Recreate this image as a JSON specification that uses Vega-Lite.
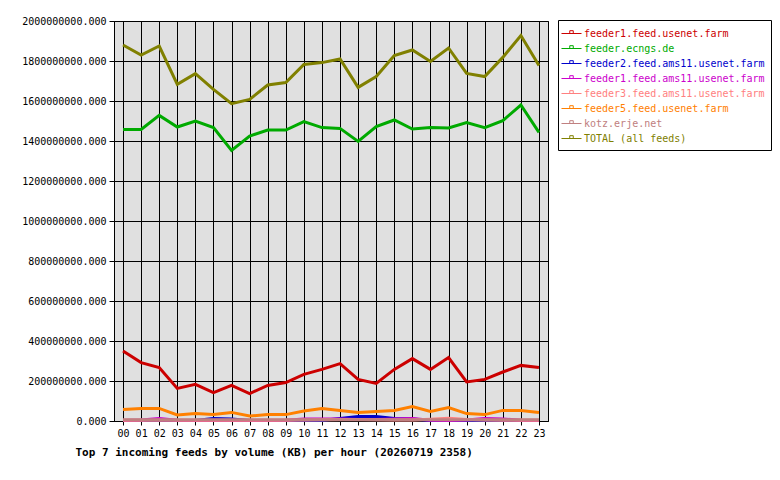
{
  "$schema": "https://vega.github.io/schema/vega-lite/v6.json",
  "description": "Top 7 incoming feeds by volume per hour",
  "width": 434,
  "height": 400,
  "autosize": "none",
  "padding": {"left": 114, "top": 21, "right": 232, "bottom": 59},
  "background": "white",
  "data": {
    "values": [
      {"hour": "00", "feed": "feeder1.feed.usenet.farm", "kb": 350000000},
      {"hour": "01", "feed": "feeder1.feed.usenet.farm", "kb": 292000000},
      {"hour": "02", "feed": "feeder1.feed.usenet.farm", "kb": 267000000},
      {"hour": "03", "feed": "feeder1.feed.usenet.farm", "kb": 163000000},
      {"hour": "04", "feed": "feeder1.feed.usenet.farm", "kb": 183000000},
      {"hour": "05", "feed": "feeder1.feed.usenet.farm", "kb": 142000000},
      {"hour": "06", "feed": "feeder1.feed.usenet.farm", "kb": 178000000},
      {"hour": "07", "feed": "feeder1.feed.usenet.farm", "kb": 137000000},
      {"hour": "08", "feed": "feeder1.feed.usenet.farm", "kb": 178000000},
      {"hour": "09", "feed": "feeder1.feed.usenet.farm", "kb": 192000000},
      {"hour": "10", "feed": "feeder1.feed.usenet.farm", "kb": 233000000},
      {"hour": "11", "feed": "feeder1.feed.usenet.farm", "kb": 258000000},
      {"hour": "12", "feed": "feeder1.feed.usenet.farm", "kb": 287000000},
      {"hour": "13", "feed": "feeder1.feed.usenet.farm", "kb": 208000000},
      {"hour": "14", "feed": "feeder1.feed.usenet.farm", "kb": 188000000},
      {"hour": "15", "feed": "feeder1.feed.usenet.farm", "kb": 258000000},
      {"hour": "16", "feed": "feeder1.feed.usenet.farm", "kb": 312000000},
      {"hour": "17", "feed": "feeder1.feed.usenet.farm", "kb": 258000000},
      {"hour": "18", "feed": "feeder1.feed.usenet.farm", "kb": 317000000},
      {"hour": "19", "feed": "feeder1.feed.usenet.farm", "kb": 195000000},
      {"hour": "20", "feed": "feeder1.feed.usenet.farm", "kb": 208000000},
      {"hour": "21", "feed": "feeder1.feed.usenet.farm", "kb": 245000000},
      {"hour": "22", "feed": "feeder1.feed.usenet.farm", "kb": 278000000},
      {"hour": "23", "feed": "feeder1.feed.usenet.farm", "kb": 267000000},

      {"hour": "00", "feed": "feeder.ecngs.de", "kb": 1458000000},
      {"hour": "01", "feed": "feeder.ecngs.de", "kb": 1458000000},
      {"hour": "02", "feed": "feeder.ecngs.de", "kb": 1528000000},
      {"hour": "03", "feed": "feeder.ecngs.de", "kb": 1470000000},
      {"hour": "04", "feed": "feeder.ecngs.de", "kb": 1500000000},
      {"hour": "05", "feed": "feeder.ecngs.de", "kb": 1467000000},
      {"hour": "06", "feed": "feeder.ecngs.de", "kb": 1353000000},
      {"hour": "07", "feed": "feeder.ecngs.de", "kb": 1425000000},
      {"hour": "08", "feed": "feeder.ecngs.de", "kb": 1455000000},
      {"hour": "09", "feed": "feeder.ecngs.de", "kb": 1455000000},
      {"hour": "10", "feed": "feeder.ecngs.de", "kb": 1497000000},
      {"hour": "11", "feed": "feeder.ecngs.de", "kb": 1467000000},
      {"hour": "12", "feed": "feeder.ecngs.de", "kb": 1463000000},
      {"hour": "13", "feed": "feeder.ecngs.de", "kb": 1398000000},
      {"hour": "14", "feed": "feeder.ecngs.de", "kb": 1472000000},
      {"hour": "15", "feed": "feeder.ecngs.de", "kb": 1505000000},
      {"hour": "16", "feed": "feeder.ecngs.de", "kb": 1460000000},
      {"hour": "17", "feed": "feeder.ecngs.de", "kb": 1468000000},
      {"hour": "18", "feed": "feeder.ecngs.de", "kb": 1465000000},
      {"hour": "19", "feed": "feeder.ecngs.de", "kb": 1492000000},
      {"hour": "20", "feed": "feeder.ecngs.de", "kb": 1467000000},
      {"hour": "21", "feed": "feeder.ecngs.de", "kb": 1502000000},
      {"hour": "22", "feed": "feeder.ecngs.de", "kb": 1580000000},
      {"hour": "23", "feed": "feeder.ecngs.de", "kb": 1443000000},

      {"hour": "00", "feed": "feeder2.feed.ams11.usenet.farm", "kb": 2000000},
      {"hour": "01", "feed": "feeder2.feed.ams11.usenet.farm", "kb": 2000000},
      {"hour": "02", "feed": "feeder2.feed.ams11.usenet.farm", "kb": 2000000},
      {"hour": "03", "feed": "feeder2.feed.ams11.usenet.farm", "kb": 2000000},
      {"hour": "04", "feed": "feeder2.feed.ams11.usenet.farm", "kb": 2000000},
      {"hour": "05", "feed": "feeder2.feed.ams11.usenet.farm", "kb": 12000000},
      {"hour": "06", "feed": "feeder2.feed.ams11.usenet.farm", "kb": 10000000},
      {"hour": "07", "feed": "feeder2.feed.ams11.usenet.farm", "kb": 2000000},
      {"hour": "08", "feed": "feeder2.feed.ams11.usenet.farm", "kb": 2000000},
      {"hour": "09", "feed": "feeder2.feed.ams11.usenet.farm", "kb": 2000000},
      {"hour": "10", "feed": "feeder2.feed.ams11.usenet.farm", "kb": 2000000},
      {"hour": "11", "feed": "feeder2.feed.ams11.usenet.farm", "kb": 3000000},
      {"hour": "12", "feed": "feeder2.feed.ams11.usenet.farm", "kb": 12000000},
      {"hour": "13", "feed": "feeder2.feed.ams11.usenet.farm", "kb": 22000000},
      {"hour": "14", "feed": "feeder2.feed.ams11.usenet.farm", "kb": 22000000},
      {"hour": "15", "feed": "feeder2.feed.ams11.usenet.farm", "kb": 12000000},
      {"hour": "16", "feed": "feeder2.feed.ams11.usenet.farm", "kb": 10000000},
      {"hour": "17", "feed": "feeder2.feed.ams11.usenet.farm", "kb": 2000000},
      {"hour": "18", "feed": "feeder2.feed.ams11.usenet.farm", "kb": 2000000},
      {"hour": "19", "feed": "feeder2.feed.ams11.usenet.farm", "kb": 2000000},
      {"hour": "20", "feed": "feeder2.feed.ams11.usenet.farm", "kb": 2000000},
      {"hour": "21", "feed": "feeder2.feed.ams11.usenet.farm", "kb": 2000000},
      {"hour": "22", "feed": "feeder2.feed.ams11.usenet.farm", "kb": 2000000},
      {"hour": "23", "feed": "feeder2.feed.ams11.usenet.farm", "kb": 2000000},

      {"hour": "00", "feed": "feeder1.feed.ams11.usenet.farm", "kb": 3000000},
      {"hour": "01", "feed": "feeder1.feed.ams11.usenet.farm", "kb": 5000000},
      {"hour": "02", "feed": "feeder1.feed.ams11.usenet.farm", "kb": 12000000},
      {"hour": "03", "feed": "feeder1.feed.ams11.usenet.farm", "kb": 4000000},
      {"hour": "04", "feed": "feeder1.feed.ams11.usenet.farm", "kb": 3000000},
      {"hour": "05", "feed": "feeder1.feed.ams11.usenet.farm", "kb": 3000000},
      {"hour": "06", "feed": "feeder1.feed.ams11.usenet.farm", "kb": 3000000},
      {"hour": "07", "feed": "feeder1.feed.ams11.usenet.farm", "kb": 3000000},
      {"hour": "08", "feed": "feeder1.feed.ams11.usenet.farm", "kb": 3000000},
      {"hour": "09", "feed": "feeder1.feed.ams11.usenet.farm", "kb": 4000000},
      {"hour": "10", "feed": "feeder1.feed.ams11.usenet.farm", "kb": 10000000},
      {"hour": "11", "feed": "feeder1.feed.ams11.usenet.farm", "kb": 10000000},
      {"hour": "12", "feed": "feeder1.feed.ams11.usenet.farm", "kb": 10000000},
      {"hour": "13", "feed": "feeder1.feed.ams11.usenet.farm", "kb": 8000000},
      {"hour": "14", "feed": "feeder1.feed.ams11.usenet.farm", "kb": 8000000},
      {"hour": "15", "feed": "feeder1.feed.ams11.usenet.farm", "kb": 10000000},
      {"hour": "16", "feed": "feeder1.feed.ams11.usenet.farm", "kb": 13000000},
      {"hour": "17", "feed": "feeder1.feed.ams11.usenet.farm", "kb": 4000000},
      {"hour": "18", "feed": "feeder1.feed.ams11.usenet.farm", "kb": 3000000},
      {"hour": "19", "feed": "feeder1.feed.ams11.usenet.farm", "kb": 5000000},
      {"hour": "20", "feed": "feeder1.feed.ams11.usenet.farm", "kb": 12000000},
      {"hour": "21", "feed": "feeder1.feed.ams11.usenet.farm", "kb": 10000000},
      {"hour": "22", "feed": "feeder1.feed.ams11.usenet.farm", "kb": 4000000},
      {"hour": "23", "feed": "feeder1.feed.ams11.usenet.farm", "kb": 3000000},

      {"hour": "00", "feed": "feeder3.feed.ams11.usenet.farm", "kb": 4000000},
      {"hour": "01", "feed": "feeder3.feed.ams11.usenet.farm", "kb": 4000000},
      {"hour": "02", "feed": "feeder3.feed.ams11.usenet.farm", "kb": 4000000},
      {"hour": "03", "feed": "feeder3.feed.ams11.usenet.farm", "kb": 4000000},
      {"hour": "04", "feed": "feeder3.feed.ams11.usenet.farm", "kb": 4000000},
      {"hour": "05", "feed": "feeder3.feed.ams11.usenet.farm", "kb": 4000000},
      {"hour": "06", "feed": "feeder3.feed.ams11.usenet.farm", "kb": 4000000},
      {"hour": "07", "feed": "feeder3.feed.ams11.usenet.farm", "kb": 4000000},
      {"hour": "08", "feed": "feeder3.feed.ams11.usenet.farm", "kb": 4000000},
      {"hour": "09", "feed": "feeder3.feed.ams11.usenet.farm", "kb": 4000000},
      {"hour": "10", "feed": "feeder3.feed.ams11.usenet.farm", "kb": 5000000},
      {"hour": "11", "feed": "feeder3.feed.ams11.usenet.farm", "kb": 6000000},
      {"hour": "12", "feed": "feeder3.feed.ams11.usenet.farm", "kb": 8000000},
      {"hour": "13", "feed": "feeder3.feed.ams11.usenet.farm", "kb": 8000000},
      {"hour": "14", "feed": "feeder3.feed.ams11.usenet.farm", "kb": 6000000},
      {"hour": "15", "feed": "feeder3.feed.ams11.usenet.farm", "kb": 5000000},
      {"hour": "16", "feed": "feeder3.feed.ams11.usenet.farm", "kb": 5000000},
      {"hour": "17", "feed": "feeder3.feed.ams11.usenet.farm", "kb": 9000000},
      {"hour": "18", "feed": "feeder3.feed.ams11.usenet.farm", "kb": 14000000},
      {"hour": "19", "feed": "feeder3.feed.ams11.usenet.farm", "kb": 8000000},
      {"hour": "20", "feed": "feeder3.feed.ams11.usenet.farm", "kb": 5000000},
      {"hour": "21", "feed": "feeder3.feed.ams11.usenet.farm", "kb": 4000000},
      {"hour": "22", "feed": "feeder3.feed.ams11.usenet.farm", "kb": 4000000},
      {"hour": "23", "feed": "feeder3.feed.ams11.usenet.farm", "kb": 4000000},

      {"hour": "00", "feed": "feeder5.feed.usenet.farm", "kb": 57000000},
      {"hour": "01", "feed": "feeder5.feed.usenet.farm", "kb": 63000000},
      {"hour": "02", "feed": "feeder5.feed.usenet.farm", "kb": 63000000},
      {"hour": "03", "feed": "feeder5.feed.usenet.farm", "kb": 30000000},
      {"hour": "04", "feed": "feeder5.feed.usenet.farm", "kb": 37000000},
      {"hour": "05", "feed": "feeder5.feed.usenet.farm", "kb": 32000000},
      {"hour": "06", "feed": "feeder5.feed.usenet.farm", "kb": 43000000},
      {"hour": "07", "feed": "feeder5.feed.usenet.farm", "kb": 25000000},
      {"hour": "08", "feed": "feeder5.feed.usenet.farm", "kb": 32000000},
      {"hour": "09", "feed": "feeder5.feed.usenet.farm", "kb": 32000000},
      {"hour": "10", "feed": "feeder5.feed.usenet.farm", "kb": 50000000},
      {"hour": "11", "feed": "feeder5.feed.usenet.farm", "kb": 63000000},
      {"hour": "12", "feed": "feeder5.feed.usenet.farm", "kb": 53000000},
      {"hour": "13", "feed": "feeder5.feed.usenet.farm", "kb": 42000000},
      {"hour": "14", "feed": "feeder5.feed.usenet.farm", "kb": 48000000},
      {"hour": "15", "feed": "feeder5.feed.usenet.farm", "kb": 53000000},
      {"hour": "16", "feed": "feeder5.feed.usenet.farm", "kb": 72000000},
      {"hour": "17", "feed": "feeder5.feed.usenet.farm", "kb": 48000000},
      {"hour": "18", "feed": "feeder5.feed.usenet.farm", "kb": 67000000},
      {"hour": "19", "feed": "feeder5.feed.usenet.farm", "kb": 37000000},
      {"hour": "20", "feed": "feeder5.feed.usenet.farm", "kb": 32000000},
      {"hour": "21", "feed": "feeder5.feed.usenet.farm", "kb": 53000000},
      {"hour": "22", "feed": "feeder5.feed.usenet.farm", "kb": 53000000},
      {"hour": "23", "feed": "feeder5.feed.usenet.farm", "kb": 42000000},

      {"hour": "00", "feed": "kotz.erje.net", "kb": 6000000},
      {"hour": "01", "feed": "kotz.erje.net", "kb": 6000000},
      {"hour": "02", "feed": "kotz.erje.net", "kb": 6000000},
      {"hour": "03", "feed": "kotz.erje.net", "kb": 6000000},
      {"hour": "04", "feed": "kotz.erje.net", "kb": 6000000},
      {"hour": "05", "feed": "kotz.erje.net", "kb": 6000000},
      {"hour": "06", "feed": "kotz.erje.net", "kb": 6000000},
      {"hour": "07", "feed": "kotz.erje.net", "kb": 6000000},
      {"hour": "08", "feed": "kotz.erje.net", "kb": 6000000},
      {"hour": "09", "feed": "kotz.erje.net", "kb": 6000000},
      {"hour": "10", "feed": "kotz.erje.net", "kb": 6000000},
      {"hour": "11", "feed": "kotz.erje.net", "kb": 6000000},
      {"hour": "12", "feed": "kotz.erje.net", "kb": 6000000},
      {"hour": "13", "feed": "kotz.erje.net", "kb": 6000000},
      {"hour": "14", "feed": "kotz.erje.net", "kb": 6000000},
      {"hour": "15", "feed": "kotz.erje.net", "kb": 6000000},
      {"hour": "16", "feed": "kotz.erje.net", "kb": 6000000},
      {"hour": "17", "feed": "kotz.erje.net", "kb": 6000000},
      {"hour": "18", "feed": "kotz.erje.net", "kb": 6000000},
      {"hour": "19", "feed": "kotz.erje.net", "kb": 6000000},
      {"hour": "20", "feed": "kotz.erje.net", "kb": 6000000},
      {"hour": "21", "feed": "kotz.erje.net", "kb": 6000000},
      {"hour": "22", "feed": "kotz.erje.net", "kb": 6000000},
      {"hour": "23", "feed": "kotz.erje.net", "kb": 6000000},

      {"hour": "00", "feed": "TOTAL (all feeds)", "kb": 1880000000},
      {"hour": "01", "feed": "TOTAL (all feeds)", "kb": 1830000000},
      {"hour": "02", "feed": "TOTAL (all feeds)", "kb": 1875000000},
      {"hour": "03", "feed": "TOTAL (all feeds)", "kb": 1683000000},
      {"hour": "04", "feed": "TOTAL (all feeds)", "kb": 1737000000},
      {"hour": "05", "feed": "TOTAL (all feeds)", "kb": 1658000000},
      {"hour": "06", "feed": "TOTAL (all feeds)", "kb": 1587000000},
      {"hour": "07", "feed": "TOTAL (all feeds)", "kb": 1608000000},
      {"hour": "08", "feed": "TOTAL (all feeds)", "kb": 1680000000},
      {"hour": "09", "feed": "TOTAL (all feeds)", "kb": 1692000000},
      {"hour": "10", "feed": "TOTAL (all feeds)", "kb": 1783000000},
      {"hour": "11", "feed": "TOTAL (all feeds)", "kb": 1792000000},
      {"hour": "12", "feed": "TOTAL (all feeds)", "kb": 1810000000},
      {"hour": "13", "feed": "TOTAL (all feeds)", "kb": 1668000000},
      {"hour": "14", "feed": "TOTAL (all feeds)", "kb": 1722000000},
      {"hour": "15", "feed": "TOTAL (all feeds)", "kb": 1827000000},
      {"hour": "16", "feed": "TOTAL (all feeds)", "kb": 1855000000},
      {"hour": "17", "feed": "TOTAL (all feeds)", "kb": 1798000000},
      {"hour": "18", "feed": "TOTAL (all feeds)", "kb": 1865000000},
      {"hour": "19", "feed": "TOTAL (all feeds)", "kb": 1738000000},
      {"hour": "20", "feed": "TOTAL (all feeds)", "kb": 1722000000},
      {"hour": "21", "feed": "TOTAL (all feeds)", "kb": 1818000000},
      {"hour": "22", "feed": "TOTAL (all feeds)", "kb": 1927000000},
      {"hour": "23", "feed": "TOTAL (all feeds)", "kb": 1777000000}
    ]
  },
  "mark": {"type": "line", "strokeWidth": 3, "strokeJoin": "miter", "strokeCap": "butt"},
  "encoding": {
    "x": {
      "field": "hour",
      "type": "ordinal",
      "scale": {"type": "point", "padding": 0.5},
      "axis": {
        "title": "Top 7 incoming feeds by volume (KB) per hour (20260719 2358)",
        "titleFont": "DejaVu Sans Mono",
        "titleFontSize": 11,
        "titleFontWeight": "bold",
        "titleColor": "black",
        "titleAnchor": "start",
        "titleAlign": "left",
        "titleBaseline": "middle",
        "titleX": -39,
        "titleY": 31,
        "labelAngle": 0,
        "labelFont": "DejaVu Sans Mono",
        "labelFontSize": 10,
        "labelColor": "black",
        "labelPadding": 3,
        "tickSize": 4,
        "tickColor": "black",
        "domainColor": "black",
        "grid": true,
        "gridColor": "black",
        "gridOpacity": 1,
        "gridWidth": 1
      }
    },
    "y": {
      "field": "kb",
      "type": "quantitative",
      "scale": {"domain": [0, 2000000000], "nice": false},
      "axis": {
        "title": null,
        "values": [0, 200000000, 400000000, 600000000, 800000000, 1000000000, 1200000000, 1400000000, 1600000000, 1800000000, 2000000000],
        "format": ".3f",
        "labelFont": "DejaVu Sans Mono",
        "labelFontSize": 10,
        "labelColor": "black",
        "labelPadding": 3,
        "tickSize": 5,
        "tickColor": "black",
        "domainColor": "black",
        "grid": true,
        "gridColor": "black",
        "gridOpacity": 1,
        "gridWidth": 1
      }
    },
    "color": {
      "field": "feed",
      "type": "nominal",
      "scale": {
        "domain": ["feeder1.feed.usenet.farm", "feeder.ecngs.de", "feeder2.feed.ams11.usenet.farm", "feeder1.feed.ams11.usenet.farm", "feeder3.feed.ams11.usenet.farm", "feeder5.feed.usenet.farm", "kotz.erje.net", "TOTAL (all feeds)"],
        "range": ["#cc0000", "#00aa00", "#0000cc", "#cc00cc", "#ff8080", "#ff8000", "#c08080", "#808000"]
      },
      "legend": {
        "title": null,
        "orient": "none",
        "legendX": 444,
        "legendY": -1,
        "padding": 6,
        "rowPadding": 2,
        "strokeColor": "black",
        "fillColor": "white",
        "labelFont": "DejaVu Sans Mono",
        "labelFontSize": 10,
        "labelOffset": 5,
        "labelLimit": 300,
        "symbolType": "M-1.43,0H1.43M-0.25,0V-0.4H0.25V0",
        "symbolSize": 196,
        "symbolStrokeWidth": 1,
        "encode": {
          "labels": {"update": {"fill": {"scale": "color", "field": "value"}}}
        }
      }
    }
  },
  "config": {
    "view": {"stroke": "black", "strokeWidth": 1, "fill": "#e0e0e0"}
  }
}
